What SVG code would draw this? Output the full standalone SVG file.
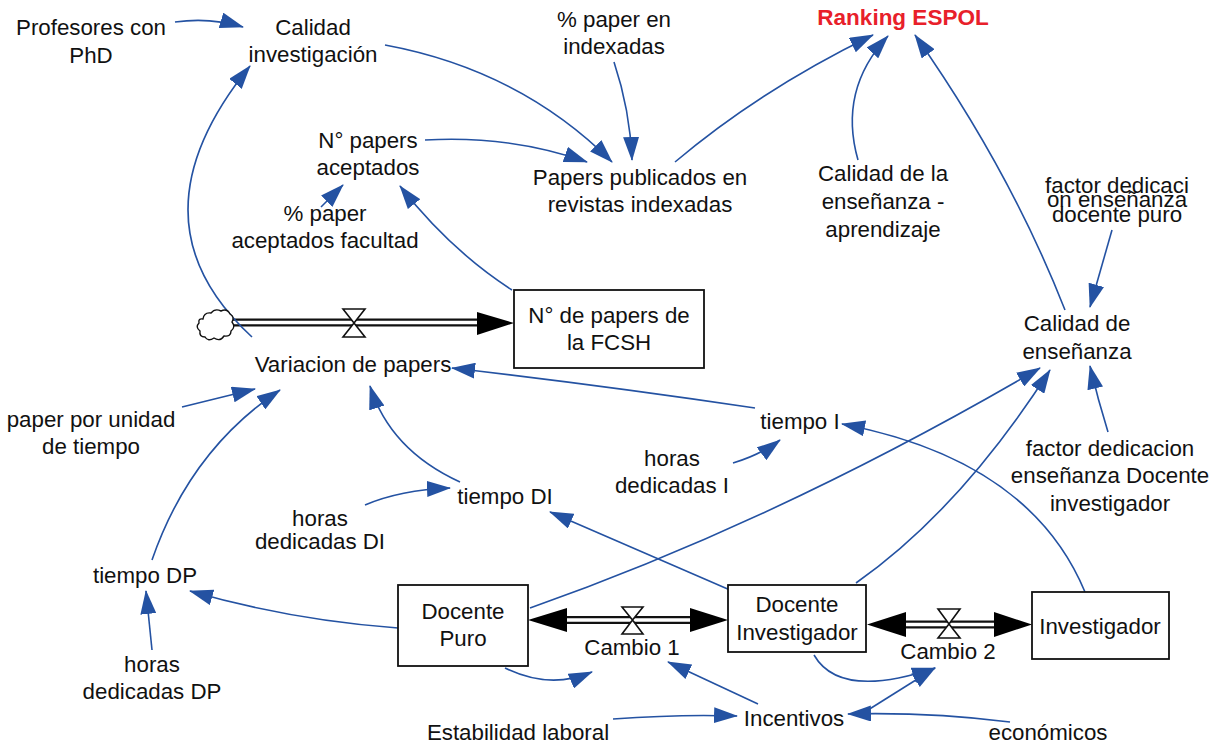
<svg xmlns="http://www.w3.org/2000/svg" width="1225" height="746" viewBox="0 0 1225 746">
<defs>
<style>
text{font-family:"Liberation Sans",Arial,sans-serif;font-size:22.3px;fill:#111;text-anchor:middle}
.red{fill:#e8202a;font-weight:bold;font-size:22.5px}
.box{fill:#fff;stroke:#111;stroke-width:1.8}
.link{fill:none;stroke:#2452a2;stroke-width:1.6}
.pipeo{stroke:#111;stroke-width:8;fill:none}
.pipei{stroke:#fff;stroke-width:3.5;fill:none}
.valve{fill:#fff;stroke:#111;stroke-width:1.6}
.head{fill:#000}
</style>
<marker id="arr" markerUnits="userSpaceOnUse" viewBox="0 0 24 16" markerWidth="24" markerHeight="16" refX="23" refY="8" orient="auto">
<path d="M0,0 L24,8 L0,16 Z" fill="#2452a2"/>
</marker>
</defs>
<rect width="1225" height="746" fill="#fff"/>

<g id="flows">
<path d="M228,322.5 L480,322.5" class="pipeo"/>
<path d="M226,322.5 L482,322.5" class="pipei"/>
<polygon class="head" points="477,312 514,323 477,335"/>
<path d="M566,620 L690,620" class="pipeo"/>
<path d="M566,620 L690,620" class="pipei"/>
<polygon class="head" points="567,608 528,620 567,632"/>
<polygon class="head" points="690,608 728,620 690,632"/>
<path d="M904,624.5 L996,624.5" class="pipeo"/>
<path d="M904,624.5 L996,624.5" class="pipei"/>
<polygon class="head" points="906,612 867,624.5 906,637"/>
<polygon class="head" points="994,612 1032,624.5 994,637"/>
</g>

<g id="connectors">
<path class="link" marker-end="url(#arr)" d="M175,22 Q210,17 243,27"/>
<path class="link" marker-end="url(#arr)" d="M252,337 Q125,220 250,66"/>
<path class="link" marker-end="url(#arr)" d="M385,45 Q520,70 612,162"/>
<path class="link" marker-end="url(#arr)" d="M425,140 Q510,135 587,162"/>
<path class="link" marker-end="url(#arr)" d="M614,62 Q630,110 632,160"/>
<path class="link" marker-end="url(#arr)" d="M675,162 Q760,90 873,35"/>
<path class="link" marker-end="url(#arr)" d="M858,160 Q838,90 888,36"/>
<path class="link" marker-end="url(#arr)" d="M1065,310 Q1010,170 915,35"/>
<path class="link" marker-end="url(#arr)" d="M1112,230 L1090,307"/>
<path class="link" marker-end="url(#arr)" d="M1108,432 Q1098,400 1090,366"/>
<path class="link" marker-end="url(#arr)" d="M530,608 Q780,520 1040,368"/>
<path class="link" marker-end="url(#arr)" d="M856,583 Q960,510 1050,370"/>
<path class="link" marker-end="url(#arr)" d="M512,290 Q450,250 400,186"/>
<path class="link" marker-end="url(#arr)" d="M321,207 L343,185"/>
<path class="link" marker-end="url(#arr)" d="M182,407 L255,389"/>
<path class="link" marker-end="url(#arr)" d="M152,560 Q190,450 280,390"/>
<path class="link" marker-end="url(#arr)" d="M152,650 L146,591"/>
<path class="link" marker-end="url(#arr)" d="M398,628 Q290,620 190,591"/>
<path class="link" marker-end="url(#arr)" d="M460,482 Q390,450 370,386"/>
<path class="link" marker-end="url(#arr)" d="M365,505 Q400,490 450,488"/>
<path class="link" marker-end="url(#arr)" d="M730,590 L550,512"/>
<path class="link" marker-end="url(#arr)" d="M755,408 Q600,385 452,368"/>
<path class="link" marker-end="url(#arr)" d="M733,463 Q760,455 780,440"/>
<path class="link" marker-end="url(#arr)" d="M1085,592 Q1030,460 842,424"/>
<path class="link" marker-end="url(#arr)" d="M505,668 Q550,690 592,672"/>
<path class="link" marker-end="url(#arr)" d="M758,704 L668,662"/>
<path class="link" marker-end="url(#arr)" d="M613,719 Q680,714 737,716"/>
<path class="link" marker-end="url(#arr)" d="M814,655 Q840,700 935,668"/>
<path class="link" marker-end="url(#arr)" d="M868,710 L935,668"/>
<path class="link" marker-end="url(#arr)" d="M1010,722 Q930,712 848,714"/>
</g>

<g id="cloud">
<path d="M203,319 q1,-7 8,-6 q4,-5 10,-2 q6,-3 9,3 q5,3 2,8 q4,5 -1,9 q0,6 -7,5 q-4,6 -10,2 q-6,4 -9,-1 q-6,0 -5,-6 q-5,-4 -1,-8 q-1,-5 4,-4 z" fill="#fff" stroke="#111" stroke-width="1.4"/>
</g>
<g id="valve-variacion">
<polygon class="valve" points="343,309 365,309 354,323 343,337 365,337 354,323"/>
</g>
<g id="valve-cambio1">
<polygon class="valve" points="622,607 643,607 632.5,620 622,634 643,634 632.5,620"/>
</g>
<g id="valve-cambio2">
<polygon class="valve" points="938,609 960,609 949,624 938,638 960,638 949,624"/>
</g>

<g id="profesores"><text x="91" y="35">Profesores con</text><text x="91" y="63">PhD</text></g>
<g id="calidad-investigacion"><text x="313" y="35">Calidad</text><text x="313" y="62">investigación</text></g>
<g id="paper-indexadas"><text x="614" y="27">% paper en</text><text x="614" y="54">indexadas</text></g>
<g id="ranking"><text class="red" x="903" y="25">Ranking ESPOL</text></g>
<g id="papers-aceptados"><text x="368" y="148">N° papers</text><text x="368" y="175">aceptados</text></g>
<g id="papers-publicados"><text x="640" y="185">Papers publicados en</text><text x="640" y="212">revistas indexadas</text></g>
<g id="calidad-ensenanza-aprendizaje"><text x="883" y="181">Calidad de la</text><text x="883" y="209">enseñanza -</text><text x="883" y="237">aprendizaje</text></g>
<g id="factor-puro"><text x="1117" y="193">factor dedicaci</text><text x="1117" y="207">on enseñanza</text><text x="1117" y="222">docente puro</text></g>
<g id="paper-aceptados-facultad"><text x="325" y="221">% paper</text><text x="325" y="248">aceptados facultad</text></g>
<g id="papers-fcsh"><rect class="box" x="514" y="290" width="190" height="78"/><text x="609" y="323">N° de papers de</text><text x="609" y="350">la FCSH</text></g>
<g id="calidad-ensenanza"><text x="1077" y="331">Calidad de</text><text x="1077" y="359">enseñanza</text></g>
<g id="variacion"><text x="353" y="372">Variacion de papers</text></g>
<g id="paper-unidad"><text x="91" y="427">paper por unidad</text><text x="91" y="454">de tiempo</text></g>
<g id="tiempo-i"><text x="800" y="429">tiempo I</text></g>
<g id="horas-i"><text x="672" y="466">horas</text><text x="672" y="493">dedicadas I</text></g>
<g id="factor-di"><text x="1110" y="456">factor dedicacion</text><text x="1110" y="483">enseñanza Docente</text><text x="1110" y="511">investigador</text></g>
<g id="tiempo-di"><text x="505" y="504">tiempo DI</text></g>
<g id="horas-di"><text x="320" y="526">horas</text><text x="320" y="549">dedicadas DI</text></g>
<g id="tiempo-dp"><text x="145" y="583">tiempo DP</text></g>
<g id="horas-dp"><text x="152" y="672">horas</text><text x="152" y="699">dedicadas DP</text></g>
<g id="docente-puro"><rect class="box" x="398" y="585" width="130" height="81"/><text x="463" y="619">Docente</text><text x="463" y="646">Puro</text></g>
<g id="docente-investigador"><rect class="box" x="728" y="585" width="138" height="67"/><text x="797" y="612">Docente</text><text x="797" y="640">Investigador</text></g>
<g id="investigador"><rect class="box" x="1032" y="592" width="137" height="67"/><text x="1100" y="634">Investigador</text></g>
<g id="cambio1"><text x="632" y="655">Cambio 1</text></g>
<g id="cambio2"><text x="948" y="659">Cambio 2</text></g>
<g id="estabilidad"><text x="518" y="740">Estabilidad laboral</text></g>
<g id="incentivos"><text x="794" y="726">Incentivos</text></g>
<g id="economicos"><text x="1048" y="740">económicos</text></g>
</svg>
